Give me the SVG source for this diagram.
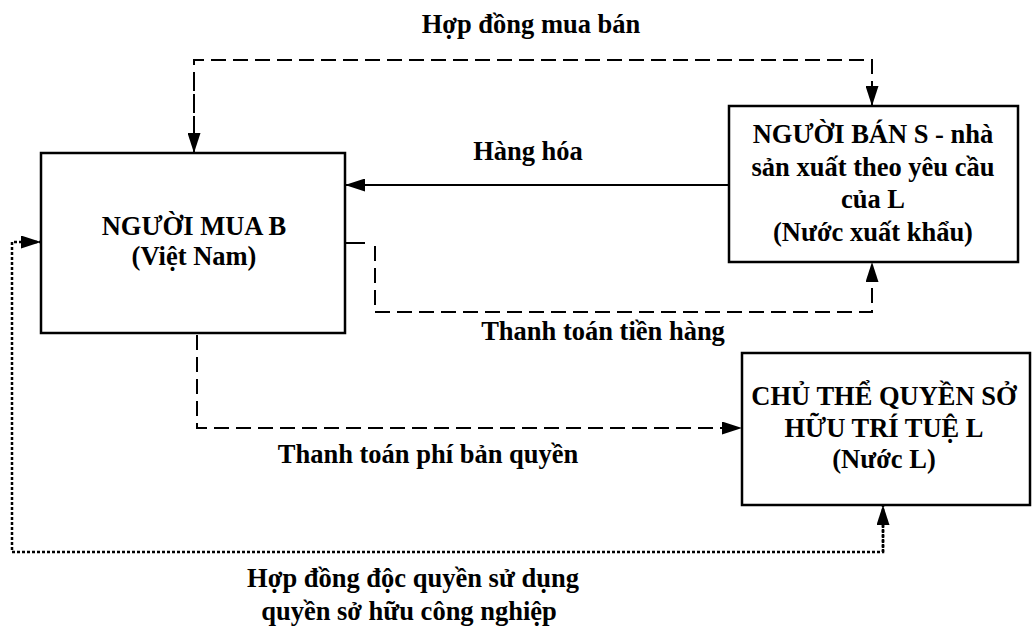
<svg xmlns="http://www.w3.org/2000/svg" width="1034" height="634" viewBox="0 0 1034 634">
<style>
text{font-family:"Liberation Serif","Times New Roman",serif;font-weight:bold;font-size:26.5px;fill:#000;text-anchor:middle}
.box{fill:#fff;stroke:#000;stroke-width:2.5}
.solid{fill:none;stroke:#000;stroke-width:2}
.dash{fill:none;stroke:#000;stroke-width:2;stroke-dasharray:15 7}
.dot{fill:none;stroke:#000;stroke-width:2.5;stroke-dasharray:3 2}
</style>
<defs>
<marker id="ah" viewBox="0 0 20 13" refX="20" refY="6.5" markerWidth="20" markerHeight="13" markerUnits="userSpaceOnUse" orient="auto">
<path d="M0,0 L20,6.5 L0,13 Z" fill="#000"/>
</marker>
</defs>
<rect width="1034" height="634" fill="#fff"/>
<g id="connectors">
<path class="dash" d="M194,153 V60 H872 V106" marker-end="url(#ah)"/>
<path class="dash" d="M194,76 V153" marker-end="url(#ah)"/>
<path class="solid" d="M729,185 H345" marker-end="url(#ah)"/>
<path class="solid" d="M345,243 H365"/>
<path class="dash" d="M375,246 V312 H872 V262" marker-end="url(#ah)"/>
<path class="dash" d="M197,335 V428 H742" marker-end="url(#ah)"/>
<path class="dot" d="M883,520 V552 H12 V242 H41" marker-end="url(#ah)"/>
<path class="dot" d="M883,552 V505" marker-end="url(#ah)"/>
</g>
<g id="node-buyer">
<rect class="box" x="41" y="153" width="304" height="180"/>
<text x="194" y="235">NGƯỜI MUA B</text>
<text x="194" y="265">(Việt Nam)</text>
</g>
<g id="node-seller">
<rect class="box" x="729" y="106" width="289" height="156"/>
<text x="873" y="143">NGƯỜI BÁN S - nhà</text>
<text x="873" y="176">sản xuất theo yêu cầu</text>
<text x="873" y="208">của L</text>
<text x="873" y="241">(Nước xuất khẩu)</text>
</g>
<g id="node-owner">
<rect class="box" x="742" y="353" width="288" height="152"/>
<text x="884" y="405">CHỦ THỂ QUYỀN SỞ</text>
<text x="884" y="437">HỮU TRÍ TUỆ L</text>
<text x="884" y="468">(Nước L)</text>
</g>
<g id="labels">
<text x="531" y="33">Hợp đồng mua bán</text>
<text x="528" y="160">Hàng hóa</text>
<text x="603" y="340">Thanh toán tiền hàng</text>
<text x="428" y="463">Thanh toán phí bản quyền</text>
<text x="413" y="587">Hợp đồng độc quyền sử dụng</text>
<text x="409" y="620">quyền sở hữu công nghiệp</text>
</g>
</svg>
